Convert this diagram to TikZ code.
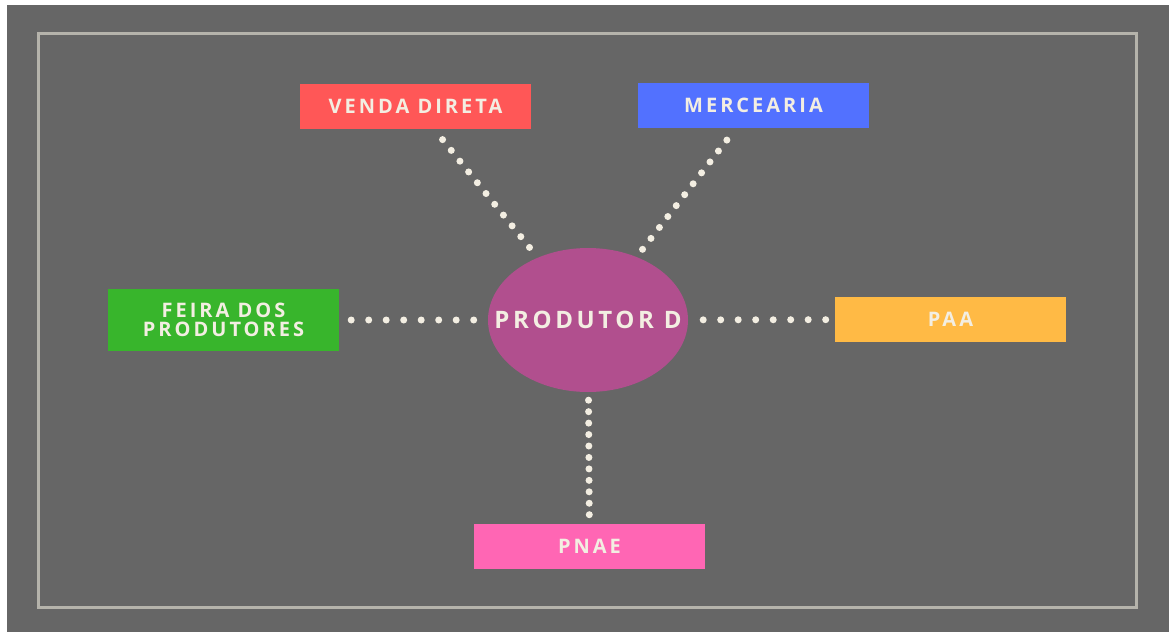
\documentclass[tikz,border=0pt]{standalone}
\usepackage{fontspec}
\setmainfont{Open Sans}
\newfontfamily\boxfont{Open Sans}[LetterSpace=15]
\usetikzlibrary{shapes.geometric}

\definecolor{bggray}{HTML}{666666}
\definecolor{framegray}{HTML}{B5B3AB}
\definecolor{cream}{HTML}{F3EEE2}
\definecolor{vendared}{HTML}{FF5757}
\definecolor{mercblue}{HTML}{5271FF}
\definecolor{feiragreen}{HTML}{38B52C}
\definecolor{paaorange}{HTML}{FFBA45}
\definecolor{pnaepink}{HTML}{FF66B4}
\definecolor{prodmagenta}{HTML}{B14F8E}

\tikzset{
  outlet/.style={rectangle, fill=#1, minimum width=231pt, minimum height=45pt,
    inner sep=0pt, text=cream, align=center,
    font=\boxfont\bfseries\fontsize{20pt}{19.5pt}\selectfont},
  producer/.style={ellipse, fill=prodmagenta, minimum width=200pt,
    minimum height=144pt, inner sep=0pt, text=cream,
    font=\boxfont\bfseries\fontsize{24pt}{26pt}\selectfont},
  dotline/.style={draw=cream, line width=7pt, line cap=round,
    dash pattern=on 0pt off #1},
}

\begin{document}
\begin{tikzpicture}[x=1pt, y=-1pt]
    \useasboundingbox (0,0) rectangle (1169,632);
    \fill[white] (0,0) rectangle (1169,632);
    \fill[bggray] (7,5) rectangle (1169,632);
    \draw[framegray, line width=3pt] (38,33.5) rectangle (1136.5,607.5);

    \node[producer] (prod) at (588,320) {\makebox[0pt]{PRODUTOR D}};
    \node[outlet=vendared] (venda) at (415.5,106) {VENDA DIRETA};
    \node[outlet=mercblue] (merc) at (753.5,105.5) {MERCEARIA};
    \node[outlet=feiragreen, minimum height=62pt] (feira) at (223.5,320) {FEIRA DOS\\PRODUTORES};
    \node[outlet=paaorange] (paa) at (950.5,319.5) {PAA};
    \node[outlet=pnaepink] (pnae) at (589.5,546) {PNAE};

    \draw[dotline=13.85pt, shorten <=14pt, shorten >=10pt] (venda) -- (prod);
    \draw[dotline=13.8pt, shorten <=15pt, shorten >=6pt] (merc) -- (prod);
    \draw[dotline=17.5pt, shorten <=12pt, shorten >=12pt] (feira) -- (prod);
    \draw[dotline=17.5pt, shorten <=15pt, shorten >=7pt] (prod) -- (paa);
    \draw[dotline=11.45pt, shorten <=8pt, shorten >=7pt] (prod) -- (pnae);
\end{tikzpicture}
\end{document}
